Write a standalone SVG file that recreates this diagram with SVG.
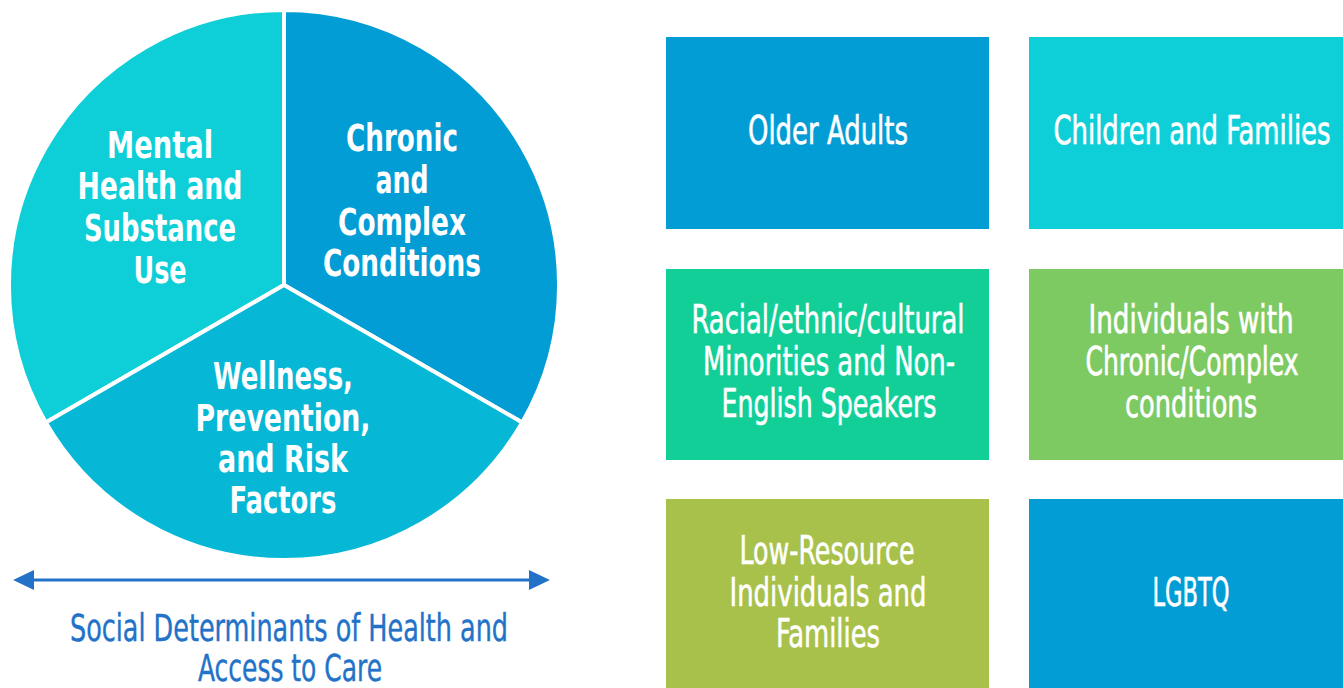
<svg xmlns="http://www.w3.org/2000/svg" width="1343" height="688" viewBox="0 0 1343 688">
<defs>
<style>
.slice{stroke:#ffffff;stroke-width:4;stroke-linejoin:round}
.pt{font-family:"Liberation Sans Narrow","DejaVu Sans Condensed","Liberation Sans",sans-serif;font-weight:bold;font-size:37px;fill:#ffffff;text-anchor:middle}
.bt{font-family:"Liberation Sans Narrow","DejaVu Sans Condensed","Liberation Sans",sans-serif;font-size:39px;fill:#ffffff;stroke:#ffffff;stroke-width:0.6;text-anchor:middle}
.lt{font-family:"Liberation Sans Narrow","DejaVu Sans Condensed","Liberation Sans",sans-serif;font-size:37px;fill:#2272C8;stroke:#2272C8;stroke-width:0.4;text-anchor:middle}
.conn{stroke:#2272C8;stroke-width:3;fill:none}
</style>
<marker id="ah" viewBox="0 0 20 20" refX="2" refY="10" markerWidth="21" markerHeight="21" markerUnits="userSpaceOnUse" orient="auto-start-reverse">
<path d="M0,0.5 L20,10 L0,19.5 Z" fill="#2272C8"/>
</marker>
</defs>
<rect width="1343" height="688" fill="#ffffff"/>

<g id="slice-mental">
<path class="slice" d="M284,285 L284,10 A275,275 0 0 0 45.8,422.5 Z" fill="#0ECFD8"/>
<text class="pt" x="160" y="158" textLength="106" lengthAdjust="spacingAndGlyphs">Mental</text>
<text class="pt" x="160" y="199" textLength="165" lengthAdjust="spacingAndGlyphs">Health and</text>
<text class="pt" x="160" y="241" textLength="152" lengthAdjust="spacingAndGlyphs">Substance</text>
<text class="pt" x="160" y="283" textLength="53" lengthAdjust="spacingAndGlyphs">Use</text>
</g>
<g id="slice-chronic">
<path class="slice" d="M284,285 L284,10 A275,275 0 0 1 522.2,422.5 Z" fill="#039DD6"/>
<text class="pt" x="402" y="151" textLength="112" lengthAdjust="spacingAndGlyphs">Chronic</text>
<text class="pt" x="402" y="193" textLength="53" lengthAdjust="spacingAndGlyphs">and</text>
<text class="pt" x="402" y="235" textLength="128" lengthAdjust="spacingAndGlyphs">Complex</text>
<text class="pt" x="402" y="276" textLength="158" lengthAdjust="spacingAndGlyphs">Conditions</text>
</g>
<g id="slice-wellness">
<path class="slice" d="M284,285 L522.2,422.5 A275,275 0 0 1 45.8,422.5 Z" fill="#06B7D6"/>
<text class="pt" x="283" y="389" textLength="140" lengthAdjust="spacingAndGlyphs">Wellness,</text>
<text class="pt" x="283" y="431" textLength="175" lengthAdjust="spacingAndGlyphs">Prevention,</text>
<text class="pt" x="283" y="472" textLength="130" lengthAdjust="spacingAndGlyphs">and Risk</text>
<text class="pt" x="283" y="513" textLength="107" lengthAdjust="spacingAndGlyphs">Factors</text>
</g>

<g id="connectors">
<line class="conn" x1="32" y1="580" x2="531" y2="580" marker-start="url(#ah)" marker-end="url(#ah)"/>
</g>
<g id="label-sdoh">
<text class="lt" x="289" y="641" textLength="438" lengthAdjust="spacingAndGlyphs">Social Determinants of Health and</text>
<text class="lt" x="290" y="681" textLength="184" lengthAdjust="spacingAndGlyphs">Access to Care</text>
</g>

<g id="box-older">
<rect x="666" y="37" width="323" height="192" fill="#039DD6"/>
<text class="bt" x="828" y="144" textLength="160" lengthAdjust="spacingAndGlyphs">Older Adults</text>
</g>
<g id="box-children">
<rect x="1029" y="37" width="314" height="192" fill="#0ECFD8"/>
<text class="bt" transform="scale(1,1.373)" x="1192" y="104.88" style="font-size:28.4px;stroke-width:0.5" textLength="277" lengthAdjust="spacingAndGlyphs">Children and Families</text>
</g>
<g id="box-racial">
<rect x="666" y="269" width="323" height="191" fill="#12CF98"/>
<text class="bt" x="828" y="333" textLength="273" lengthAdjust="spacingAndGlyphs">Racial/ethnic/cultural</text>
<text class="bt" x="829" y="375" textLength="252" lengthAdjust="spacingAndGlyphs">Minorities and Non-</text>
<text class="bt" x="829" y="417" textLength="215" lengthAdjust="spacingAndGlyphs">English Speakers</text>
</g>
<g id="box-chronic">
<rect x="1029" y="269" width="314" height="191" fill="#7DC962"/>
<text class="bt" transform="scale(1,1.34)" x="1191" y="248.5" style="font-size:29.1px;stroke-width:0.5" textLength="205" lengthAdjust="spacingAndGlyphs">Individuals with</text>
<text class="bt" transform="scale(1,1.408)" x="1192" y="266.3" style="font-size:27.7px;stroke-width:0.5" textLength="213" lengthAdjust="spacingAndGlyphs">Chronic/Complex</text>
<text class="bt" x="1191" y="417" textLength="132" lengthAdjust="spacingAndGlyphs">conditions</text>
</g>
<g id="box-lowresource">
<rect x="666" y="499" width="323" height="189" fill="#A8C14A"/>
<text class="bt" x="827" y="564" textLength="175" lengthAdjust="spacingAndGlyphs">Low-Resource</text>
<text class="bt" x="828" y="606" textLength="197" lengthAdjust="spacingAndGlyphs">Individuals and</text>
<text class="bt" x="828" y="647" textLength="104" lengthAdjust="spacingAndGlyphs">Families</text>
</g>
<g id="box-lgbtq">
<rect x="1029" y="499" width="314" height="189" fill="#039DD6"/>
<text class="bt" x="1191" y="606" textLength="77" lengthAdjust="spacingAndGlyphs">LGBTQ</text>
</g>
</svg>
